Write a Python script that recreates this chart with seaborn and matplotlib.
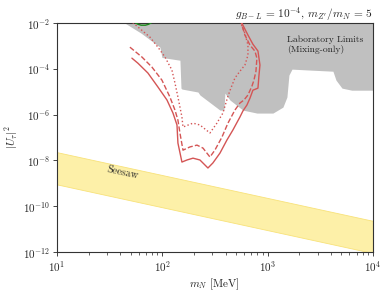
import numpy as np
import pandas as pd
import matplotlib
matplotlib.use('Agg')
import matplotlib.pyplot as plt
import seaborn as sns

# ---- data (log10 values) ----
lab_logm = [1.646, 1.80, 1.978, 1.997, 2.168, 2.178, 2.187, 2.339, 2.358, 2.548, 2.586,
            2.595, 2.643, 2.766, 2.899, 3.051, 3.146, 3.184, 3.203, 3.232, 3.40,
            3.621, 3.650, 3.707, 3.80, 4.0]
lab_logu = [-2.0, -2.44, -3.05, -3.50, -3.62, -4.84, -4.88, -5.01, -5.14, -5.80, -5.80,
            -5.06, -5.36, -5.80, -5.93, -5.93, -5.67, -5.23, -4.27, -4.01, -4.05,
            -4.10, -4.49, -4.84, -4.93, -4.93]

solid_logm = [1.712, 1.769, 1.864, 1.959, 2.045, 2.102, 2.140, 2.149, 2.187, 2.235, 2.292,
              2.358, 2.434, 2.481, 2.548, 2.614, 2.671, 2.738, 2.766, 2.804, 2.833,
              2.861, 2.909, 2.918, 2.928, 2.909, 2.861, 2.814, 2.766, 2.738]
solid_logu = [-3.53, -3.75, -4.18, -4.79, -5.36, -5.93, -6.45, -7.24, -8.07, -7.98, -7.90,
              -7.98, -8.33, -8.11, -7.68, -7.11, -6.67, -6.10, -5.84, -5.58, -5.28,
              -4.93, -4.84, -4.31, -3.83, -3.22, -2.92, -2.52, -2.09, -1.78]

dashed_logm = [1.693, 1.807, 1.902, 1.997, 2.073, 2.121, 2.149, 2.168, 2.197, 2.263, 2.330,
               2.387, 2.453, 2.500, 2.567, 2.624, 2.690, 2.738, 2.776, 2.814, 2.852,
               2.871, 2.890, 2.899, 2.880, 2.833, 2.785, 2.757, 2.738]
dashed_logu = [-3.05, -3.48, -3.92, -4.49, -5.23, -5.80, -6.24, -6.80, -7.55, -7.41, -7.33,
               -7.46, -7.85, -7.55, -6.98, -6.37, -5.80, -5.49, -5.36, -5.14, -4.75,
               -4.49, -4.10, -3.53, -3.22, -2.96, -2.52, -2.09, -1.78]

dotted_logm = [1.693, 1.883, 1.959, 2.026, 2.092, 2.121, 2.149, 2.187, 2.197, 2.292, 2.358,
               2.453, 2.519, 2.576, 2.624, 2.652, 2.690, 2.738, 2.785, 2.814, 2.814,
               2.785, 2.738]
dotted_logu = [-1.87, -2.61, -3.05, -3.48, -4.05, -4.62, -5.23, -6.10, -6.54, -6.37, -6.45,
               -6.80, -6.37, -5.93, -5.19, -4.84, -4.40, -4.10, -3.83, -3.40, -2.96,
               -2.44, -1.91]

green_logm = [1.74, 1.77, 1.80, 1.84, 1.87, 1.90]
green_logu = [-1.97, -2.05, -2.09, -2.09, -2.05, -1.97]

seesaw_m = [10, 1e4]
seesaw_hi = [2.3e-8, 2.3e-11]
seesaw_lo = [9e-10, 9e-13]

# ---- style ----
sns.set_theme(style='ticks')
plt.rcParams['font.family'] = 'serif'
plt.rcParams['font.serif'] = ['cmr10']
plt.rcParams['mathtext.fontset'] = 'cm'
plt.rcParams['axes.formatter.use_mathtext'] = True
plt.rcParams['axes.unicode_minus'] = False

red = '#d45555'

fig = plt.figure(figsize=(3.9, 2.93), dpi=100)
ax = fig.add_axes([0.146, 0.140, 0.810, 0.781])

lab_m = 10 ** np.array(lab_logm)
lab_u = 10 ** np.array(lab_logu)
ax.fill_between(lab_m, lab_u, 1, color='#c0c0c0', lw=0, zorder=1)

ax.fill_between(seesaw_m, seesaw_lo, seesaw_hi, color='#fdf0a8', edgecolor='#f8e27a',
                lw=0.6, zorder=1)

curves = [(solid_logm, solid_logu, '-'), (dashed_logm, dashed_logu, '--'),
          (dotted_logm, dotted_logu, ':')]
for lm, lu, ls in curves:
    df = pd.DataFrame({'m': 10 ** np.array(lm), 'u': 10 ** np.array(lu)})
    sns.lineplot(data=df, x='m', y='u', sort=False, estimator=None, color=red,
                 linestyle=ls, lw=1.0, ax=ax, zorder=3)

ax.plot(10 ** np.array(green_logm), 10 ** np.array(green_logu), color='#1a8a1a', lw=1.0, zorder=3)

ax.set_xscale('log')
ax.set_yscale('log')
ax.set_xlim(10, 1e4)
ax.set_ylim(1e-12, 1e-2)
ax.set_yticks([1e-12, 1e-10, 1e-8, 1e-6, 1e-4, 1e-2])
ax.yaxis.set_minor_locator(matplotlib.ticker.NullLocator())
ax.tick_params(labelsize=8, length=3, width=0.6, pad=2)
ax.tick_params(which='minor', length=1.8, width=0.5)
for s in ax.spines.values():
    s.set_visible(True)
    s.set_linewidth(0.8)
    s.set_color('#333333')

ax.set_xlabel(r'$m_N$ [MeV]', fontsize=8, labelpad=2)
ax.set_ylabel(r'$|U_\tau|^2$', fontsize=8, labelpad=2)
ax.set_title(r'$g_{B-L}\,=\,10^{-4}$, $m_{Z^\prime}/m_N\,=\,5$', loc='right', fontsize=8.2, pad=3)

ax.text(1530, 3.0e-3, 'Laboratory Limits\n(Mixing-only)', fontsize=6.9, ha='left', va='top',
        linespacing=1.15, zorder=4)
ax.text(42, 2.8e-9, 'Seesaw', fontsize=7.5, ha='center', va='center', rotation=-12,
        rotation_mode='anchor', zorder=4)

fig.savefig('out.png', dpi=100)
